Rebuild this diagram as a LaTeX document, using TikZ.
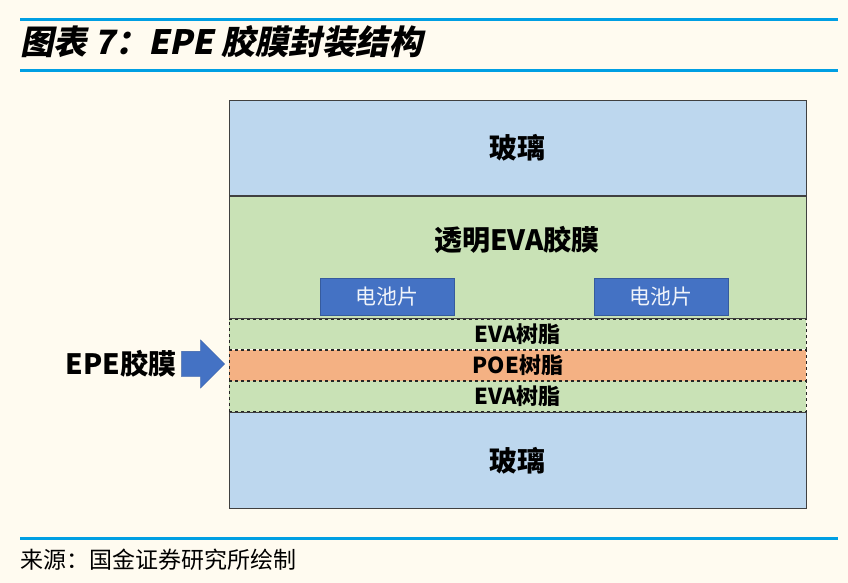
\documentclass[tikz,border=0pt]{standalone}
\usepackage{fontspec}
\setmainfont{Liberation Sans}
\newfontfamily\cjk{Noto Sans CJK SC}
\newfontfamily\cjktitle{Noto Sans CJK SC}[FakeSlant=0.2]
\usetikzlibrary{positioning,shapes.arrows}

\definecolor{paper}{HTML}{FFFBF0}
\definecolor{rulecyan}{HTML}{009FE3}
\definecolor{glassblue}{HTML}{BDD7EE}
\definecolor{evagreen}{HTML}{C9E2B6}
\definecolor{poeorange}{HTML}{F4B183}
\definecolor{cellblue}{HTML}{4472C4}

\begin{document}
\begin{tikzpicture}[x=1pt, y=-1pt, node distance=0pt,
  every node/.style={align=center, inner sep=0pt},
  rule/.style={draw=rulecyan, line width=3pt},
  glass/.style={draw=black!75, fill=glassblue, line width=0.8pt, minimum width=577pt, font=\cjk\bfseries\fontsize{28}{28}\selectfont},
  resin/.style={draw=black!85, dashed, line width=0.6pt, minimum width=577pt, minimum height=30.5pt, font=\cjk\bfseries\fontsize{22}{22}\selectfont},
  cellbox/.style={fill=cellblue, draw=cellblue!80!black, minimum width=134pt, minimum height=37pt, text=white!92!cellblue, font=\cjk\fontsize{21}{21}\selectfont}]
  \fill[paper] (0,0) rectangle (848,583);
  \useasboundingbox (0,0) rectangle (848,583);

  % title and rules
  \draw[rule] (20,20) -- (838,20);
  \draw[rule] (20,71) -- (838,71);
  \draw[rule] (20,538) -- (838,538);
  \node[anchor=west, font=\cjktitle\bfseries\fontsize{33.5}{33.5}\selectfont] (title) at (20,42) {图表 7：EPE 胶膜封装结构};
  \node[anchor=west, font=\cjk\fontsize{23}{23}\selectfont] (src) at (20,560) {来源：国金证券研究所绘制};

  % layer stack
  \node[glass, anchor=north west, minimum height=95pt] (topglass) at (229,100) {玻璃};
  \node[draw=black!75, fill=evagreen, line width=0.8pt, minimum width=577pt, minimum height=122pt, below=of topglass] (film) {};
  \node[font=\cjk\bfseries\fontsize{28}{28}\selectfont] (filmtxt) at (517,240) {透明EVA胶膜};
  \node[cellbox] (cellL) at (387,297) {电池片};
  \node[cellbox] (cellR) at (661,297) {电池片};
  \node[resin, fill=evagreen, below=of film] (evaA) {EVA树脂};
  \node[resin, fill=poeorange, below=of evaA] (poe) {POE树脂};
  \node[resin, fill=evagreen, below=of poe] (evaB) {EVA树脂};
  \node[glass, minimum height=96pt, below=of evaB] (botglass) {玻璃};

  % EPE label
  \node[font=\cjk\bfseries\fontsize{28}{28}\selectfont] (epe) at (121,364) {EPE胶膜};
  \node[single arrow, fill=cellblue, draw=cellblue!85!black, minimum height=43pt, inner xsep=0pt, inner ysep=12.5pt,
        single arrow head extend=11.5pt, right=5pt of epe] (arr) {};
\end{tikzpicture}
\end{document}
